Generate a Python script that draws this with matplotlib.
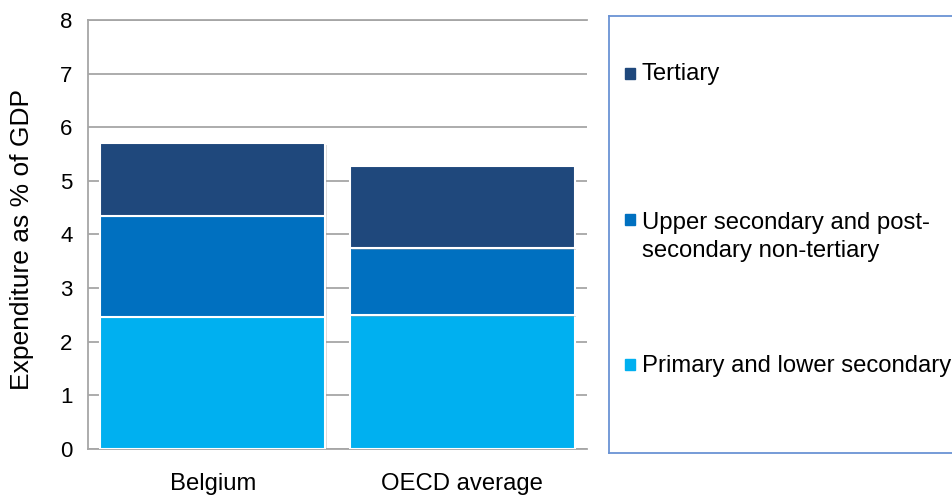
import numpy as np
import matplotlib
matplotlib.use("Agg")
import matplotlib.pyplot as plt
from matplotlib.patches import Rectangle
import matplotlib.patheffects as pe

plt.rcParams['font.family'] = ['Liberation Sans', 'DejaVu Sans']

# expenditure on education as % of GDP, by level
countries = ['Belgium', 'OECD average']
primary = [2.47, 2.49]
upper_sec = [1.88, 1.26]
tertiary = [1.35, 1.53]
levels = ['Primary and lower secondary',
          'Upper secondary and post-\nsecondary non-tertiary',
          'Tertiary']
colors = ['#00B0F0', '#0070C0', '#1F487C']

W, H = 953, 498
fig = plt.figure(figsize=(W / 100, H / 100), dpi=100)
fig.patch.set_facecolor('white')

ax = fig.add_axes([88 / W, (H - 449) / H, (587 - 88) / W, (449 - 20) / H])
x = np.arange(len(countries))
shadow = [pe.SimplePatchShadow(offset=(1.2, -1.2), shadow_rgbFace='#999999', alpha=0.35), pe.Normal()]
bottom = np.zeros(len(countries))
for vals, c in zip([primary, upper_sec, tertiary], colors):
    ax.bar(x, vals, width=0.9, bottom=bottom, color=c, edgecolor='white',
           linewidth=1.5, zorder=3, path_effects=shadow)
    bottom += np.array(vals)

ax.set_xlim(-0.5, 1.5)
ax.set_ylim(0, 8)
ax.set_yticks(range(0, 9))
ax.yaxis.grid(True, color='#A6A6A6', linewidth=1.3, zorder=0)
ax.set_axisbelow(True)
for s in ['left', 'bottom', 'top']:
    ax.spines[s].set_color('#A6A6A6')
    ax.spines[s].set_linewidth(1.3)
ax.spines['right'].set_visible(False)
ax.set_xticks(x)
ax.set_xticklabels(countries, fontsize=17.2)
ax.tick_params(axis='y', length=0, labelsize=16, pad=11)
ax.tick_params(axis='x', length=0, pad=17)

fig.text(22 / W, (H - 240) / H, 'Expenditure as % of GDP', fontsize=19,
         rotation=90, ha='center', va='center')

# legend panel on the right
lg = fig.add_axes([609 / W, (H - 453) / H, (970 - 609) / W, (453 - 16) / H])
lg.set_xlim(609, 970)
lg.set_ylim(453, 16)
lg.set_xticks([])
lg.set_yticks([])
for s in lg.spines.values():
    s.set_color('#6A93D4')
    s.set_linewidth(1.3)

entries = [(levels[2], colors[2], 74, 74),
           (levels[1], colors[1], 220, 237),
           (levels[0], colors[0], 365, 366)]
for label, c, ysq, ytxt in entries:
    lg.add_patch(Rectangle((625, ysq - 5.5), 10, 11, color=c))
    lg.text(642, ytxt, label, fontsize=17.2, va='center', ha='left',
            linespacing=1.4)

fig.savefig('out.png', dpi=100)
